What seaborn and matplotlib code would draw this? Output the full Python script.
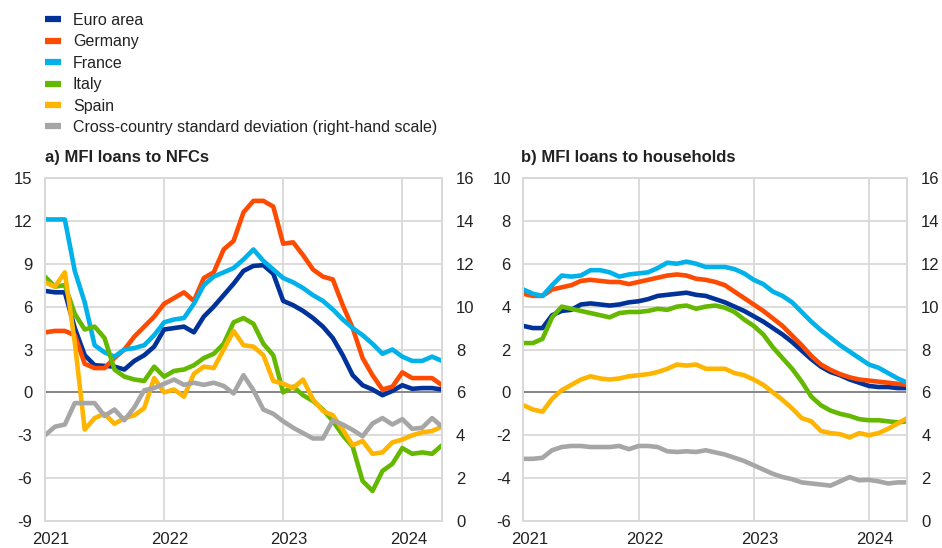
import numpy as np
import pandas as pd
import matplotlib.pyplot as plt
import seaborn as sns
from matplotlib.lines import Line2D
from matplotlib.transforms import ScaledTranslation

# ---------------------------
# Data (monthly, Jan 2021 - May 2024), annual growth rates in %
# ---------------------------
months = np.arange(41)
year_ticks = [0, 12, 24, 36]
year_labels = ["2021", "2022", "2023", "2024"]

series = ["Euro area", "Germany", "France", "Italy", "Spain"]
colors = ["#003299", "#ff4b00", "#00b1ea", "#65b800", "#ffb400"]
std_label = "Cross-country standard deviation (right-hand scale)"
std_color = "#a6a6a6"

# a) MFI loans to NFCs
nfc_ea = [7.1, 7.0, 7.0, 4.5, 2.6, 1.9, 1.85, 1.8, 1.6, 2.2, 2.6, 3.2, 4.4, 4.5,
          4.6, 4.2, 5.3, 6.0, 6.8, 7.6, 8.5, 8.85, 8.9, 8.3, 6.4, 6.1, 5.7, 5.2,
          4.6, 3.8, 2.6, 1.2, 0.5, 0.2, -0.2, 0.1, 0.5, 0.25, 0.3, 0.3, 0.2]
nfc_de = [4.2, 4.3, 4.3, 4.0, 2.0, 1.7, 1.7, 2.4, 3.0, 3.9, 4.6, 5.3, 6.2, 6.6,
          7.0, 6.4, 8.0, 8.4, 10.0, 10.6, 12.6, 13.4, 13.4, 13.0, 10.4, 10.5,
          9.6, 8.6, 8.1, 7.9, 6.1, 4.5, 2.4, 1.2, 0.2, 0.4, 1.4, 1.0, 1.0, 1.0, 0.5]
nfc_fr = [12.1, 12.1, 12.1, 8.5, 6.3, 3.3, 2.8, 2.5, 3.0, 3.1, 3.3, 4.0, 4.9,
          5.1, 5.2, 6.2, 7.5, 8.1, 8.4, 8.7, 9.3, 10.0, 9.2, 8.6, 8.0, 7.7, 7.3,
          6.8, 6.4, 5.8, 5.1, 4.5, 4.0, 3.4, 2.7, 3.0, 2.5, 2.2, 2.2, 2.5, 2.2]
nfc_it = [8.1, 7.4, 7.5, 5.5, 4.4, 4.6, 3.8, 1.6, 1.1, 0.9, 0.8, 1.8, 1.1, 1.5,
          1.6, 1.9, 2.4, 2.7, 3.4, 4.9, 5.2, 4.8, 3.4, 2.6, 0.0, 0.4, -0.2, -0.6,
          -1.2, -2.0, -3.0, -3.8, -6.2, -6.9, -5.5, -5.0, -3.9, -4.3, -4.2, -4.3, -3.7]
nfc_es = [7.7, 7.4, 8.4, 3.5, -2.6, -1.8, -1.5, -2.2, -1.8, -1.6, -1.1, 1.0,
          0.0, 0.2, -0.3, 1.3, 1.8, 1.7, 3.0, 4.3, 3.3, 3.2, 2.6, 0.8, 0.6, 0.3,
          0.9, -0.5, -1.3, -1.6, -2.6, -3.7, -3.4, -4.3, -4.2, -3.5, -3.3, -3.0,
          -2.8, -2.7, -2.4]
nfc_std = [4.0, 4.4, 4.5, 5.5, 5.5, 5.5, 4.9, 5.2, 4.7, 5.3, 6.1, 6.2, 6.4, 6.6,
           6.35, 6.45, 6.35, 6.45, 6.3, 5.95, 6.8, 6.1, 5.2, 5.0, 4.65, 4.35,
           4.1, 3.85, 3.85, 4.7, 4.5, 4.25, 3.95, 4.55, 4.8, 4.5, 4.75, 4.3,
           4.35, 4.8, 4.4]

# b) MFI loans to households
hh_ea = [3.1, 3.0, 3.0, 3.6, 3.8, 3.85, 4.1, 4.15, 4.1, 4.05, 4.1, 4.2, 4.25,
         4.35, 4.5, 4.55, 4.6, 4.65, 4.55, 4.5, 4.35, 4.2, 4.0, 3.8, 3.55, 3.3,
         3.0, 2.7, 2.35, 1.95, 1.55, 1.2, 0.95, 0.8, 0.6, 0.45, 0.3, 0.25, 0.25,
         0.2, 0.2]
hh_de = [4.6, 4.5, 4.5, 4.8, 4.9, 5.0, 5.2, 5.25, 5.2, 5.15, 5.15, 5.05, 5.15,
         5.25, 5.35, 5.45, 5.5, 5.45, 5.3, 5.25, 5.15, 5.0, 4.7, 4.4, 4.1, 3.8,
         3.45, 3.1, 2.65, 2.2, 1.7, 1.3, 1.05, 0.85, 0.7, 0.6, 0.55, 0.5, 0.45,
         0.4, 0.35]
hh_fr = [4.8, 4.6, 4.5, 5.0, 5.45, 5.4, 5.45, 5.7, 5.7, 5.6, 5.4, 5.5, 5.55,
         5.6, 5.8, 6.05, 6.0, 6.1, 6.0, 5.85, 5.85, 5.85, 5.75, 5.55, 5.25, 5.05,
         4.7, 4.5, 4.2, 3.75, 3.3, 2.9, 2.55, 2.2, 1.9, 1.6, 1.3, 1.15, 0.9,
         0.65, 0.45]
hh_it = [2.3, 2.3, 2.5, 3.5, 4.0, 3.9, 3.8, 3.7, 3.6, 3.5, 3.7, 3.75, 3.75, 3.8,
         3.9, 3.85, 4.0, 4.05, 3.9, 4.0, 4.05, 3.95, 3.75, 3.4, 3.1, 2.7, 2.1,
         1.6, 1.1, 0.5, -0.2, -0.6, -0.85, -1.0, -1.1, -1.25, -1.3, -1.3, -1.35,
         -1.4, -1.35]
hh_es = [-0.6, -0.8, -0.9, -0.3, 0.1, 0.35, 0.6, 0.75, 0.65, 0.6, 0.65, 0.75,
         0.8, 0.85, 0.95, 1.1, 1.3, 1.25, 1.3, 1.1, 1.1, 1.1, 0.9, 0.8, 0.6, 0.35,
         0.0, -0.35, -0.75, -1.2, -1.35, -1.8, -1.9, -1.95, -2.1, -1.9, -2.0,
         -1.9, -1.7, -1.45, -1.2]
hh_std = [2.9, 2.9, 2.95, 3.3, 3.45, 3.5, 3.5, 3.45, 3.45, 3.45, 3.5, 3.35, 3.5,
          3.5, 3.45, 3.25, 3.22, 3.25, 3.22, 3.3, 3.2, 3.1, 2.95, 2.8, 2.6, 2.4,
          2.2, 2.05, 1.95, 1.8, 1.75, 1.7, 1.65, 1.85, 2.05, 1.9, 1.92, 1.85,
          1.75, 1.8, 1.8]

# ---------------------------
# Style
# ---------------------------
sns.set_style("white")
plt.rcParams["font.family"] = ["Liberation Sans", "DejaVu Sans"]
plt.rcParams["font.size"] = 12
plt.rcParams["axes.unicode_minus"] = False

grid_c = "#d9d9d9"
text_c = "#222222"
lw = 3.3

fig = plt.figure(figsize=(9.42, 5.48), dpi=100)
W, H = 942, 548


def panel(rect, title, vals, std, ylim, ystep, title_x):
    ax = fig.add_axes([rect[0] / W, 1 - rect[3] / H, (rect[2] - rect[0]) / W,
                       (rect[3] - rect[1]) / H])
    df = pd.DataFrame({"month": months})
    for name, v in zip(series, vals):
        df[name] = v
    long = df.melt(id_vars="month", var_name="series", value_name="value")
    sns.lineplot(data=long, x="month", y="value", hue="series",
                 hue_order=series, palette=colors, linewidth=lw,
                 legend=False, ax=ax)
    ax.axhline(0, color="#7f7f7f", lw=1.3, zorder=1.5)

    ax2 = ax.twinx()
    sns.lineplot(x=months, y=std, color=std_color, linewidth=lw, ax=ax2)

    ax.set_xlim(0, 40)
    ax.set_ylim(*ylim)
    ax.set_yticks(np.arange(ylim[0], ylim[1] + 0.1, ystep))
    ax2.set_ylim(0, 16)
    ax2.set_yticks(np.arange(0, 17, 2))
    ax.set_xticks(year_ticks)
    ax.set_xticklabels(year_labels)
    ax.set_xlabel("")
    ax.set_ylabel("")
    ax2.set_ylabel("")

    ax.grid(True, color=grid_c, lw=1.3)
    ax.set_axisbelow(True)
    ax2.grid(False)
    for a in (ax, ax2):
        for s in a.spines.values():
            s.set_color(grid_c)
            s.set_linewidth(1.3)
        a.tick_params(length=0, labelsize=12, colors=text_c)
    ax.tick_params(axis="y", pad=9)
    ax.tick_params(axis="x", pad=8)
    ax2.tick_params(axis="y", pad=10)

    # year labels sit slightly right of the gridlines
    shift = ScaledTranslation(0.06, 0, fig.dpi_scale_trans)
    for lab in ax.get_xticklabels():
        lab.set_transform(lab.get_transform() + shift)

    fig.text(title_x / W, 1 - 158 / H, title, fontweight="bold", fontsize=12,
             color=text_c, va="center", ha="left")
    return ax


panel((45, 178, 442, 521), "a) MFI loans to NFCs",
      [nfc_ea, nfc_de, nfc_fr, nfc_it, nfc_es], nfc_std, (-9, 15), 3, 45)
panel((523.3, 178, 907.3, 521), "b) MFI loans to households",
      [hh_ea, hh_de, hh_fr, hh_it, hh_es], hh_std, (-6, 10), 2, 521)

handles = [Line2D([], [], color=c, lw=4.5, solid_capstyle="butt")
           for c in colors + [std_color]]
labels = series + [std_label]
fig.legend(handles, labels, loc="upper left", bbox_to_anchor=(45 / W, 1 - 13 / H),
           frameon=False, fontsize=11.5, handlelength=1.0, handletextpad=0.75,
           labelspacing=0.40, borderpad=0, borderaxespad=0, labelcolor=text_c)

fig.savefig("out.png", dpi=100)
